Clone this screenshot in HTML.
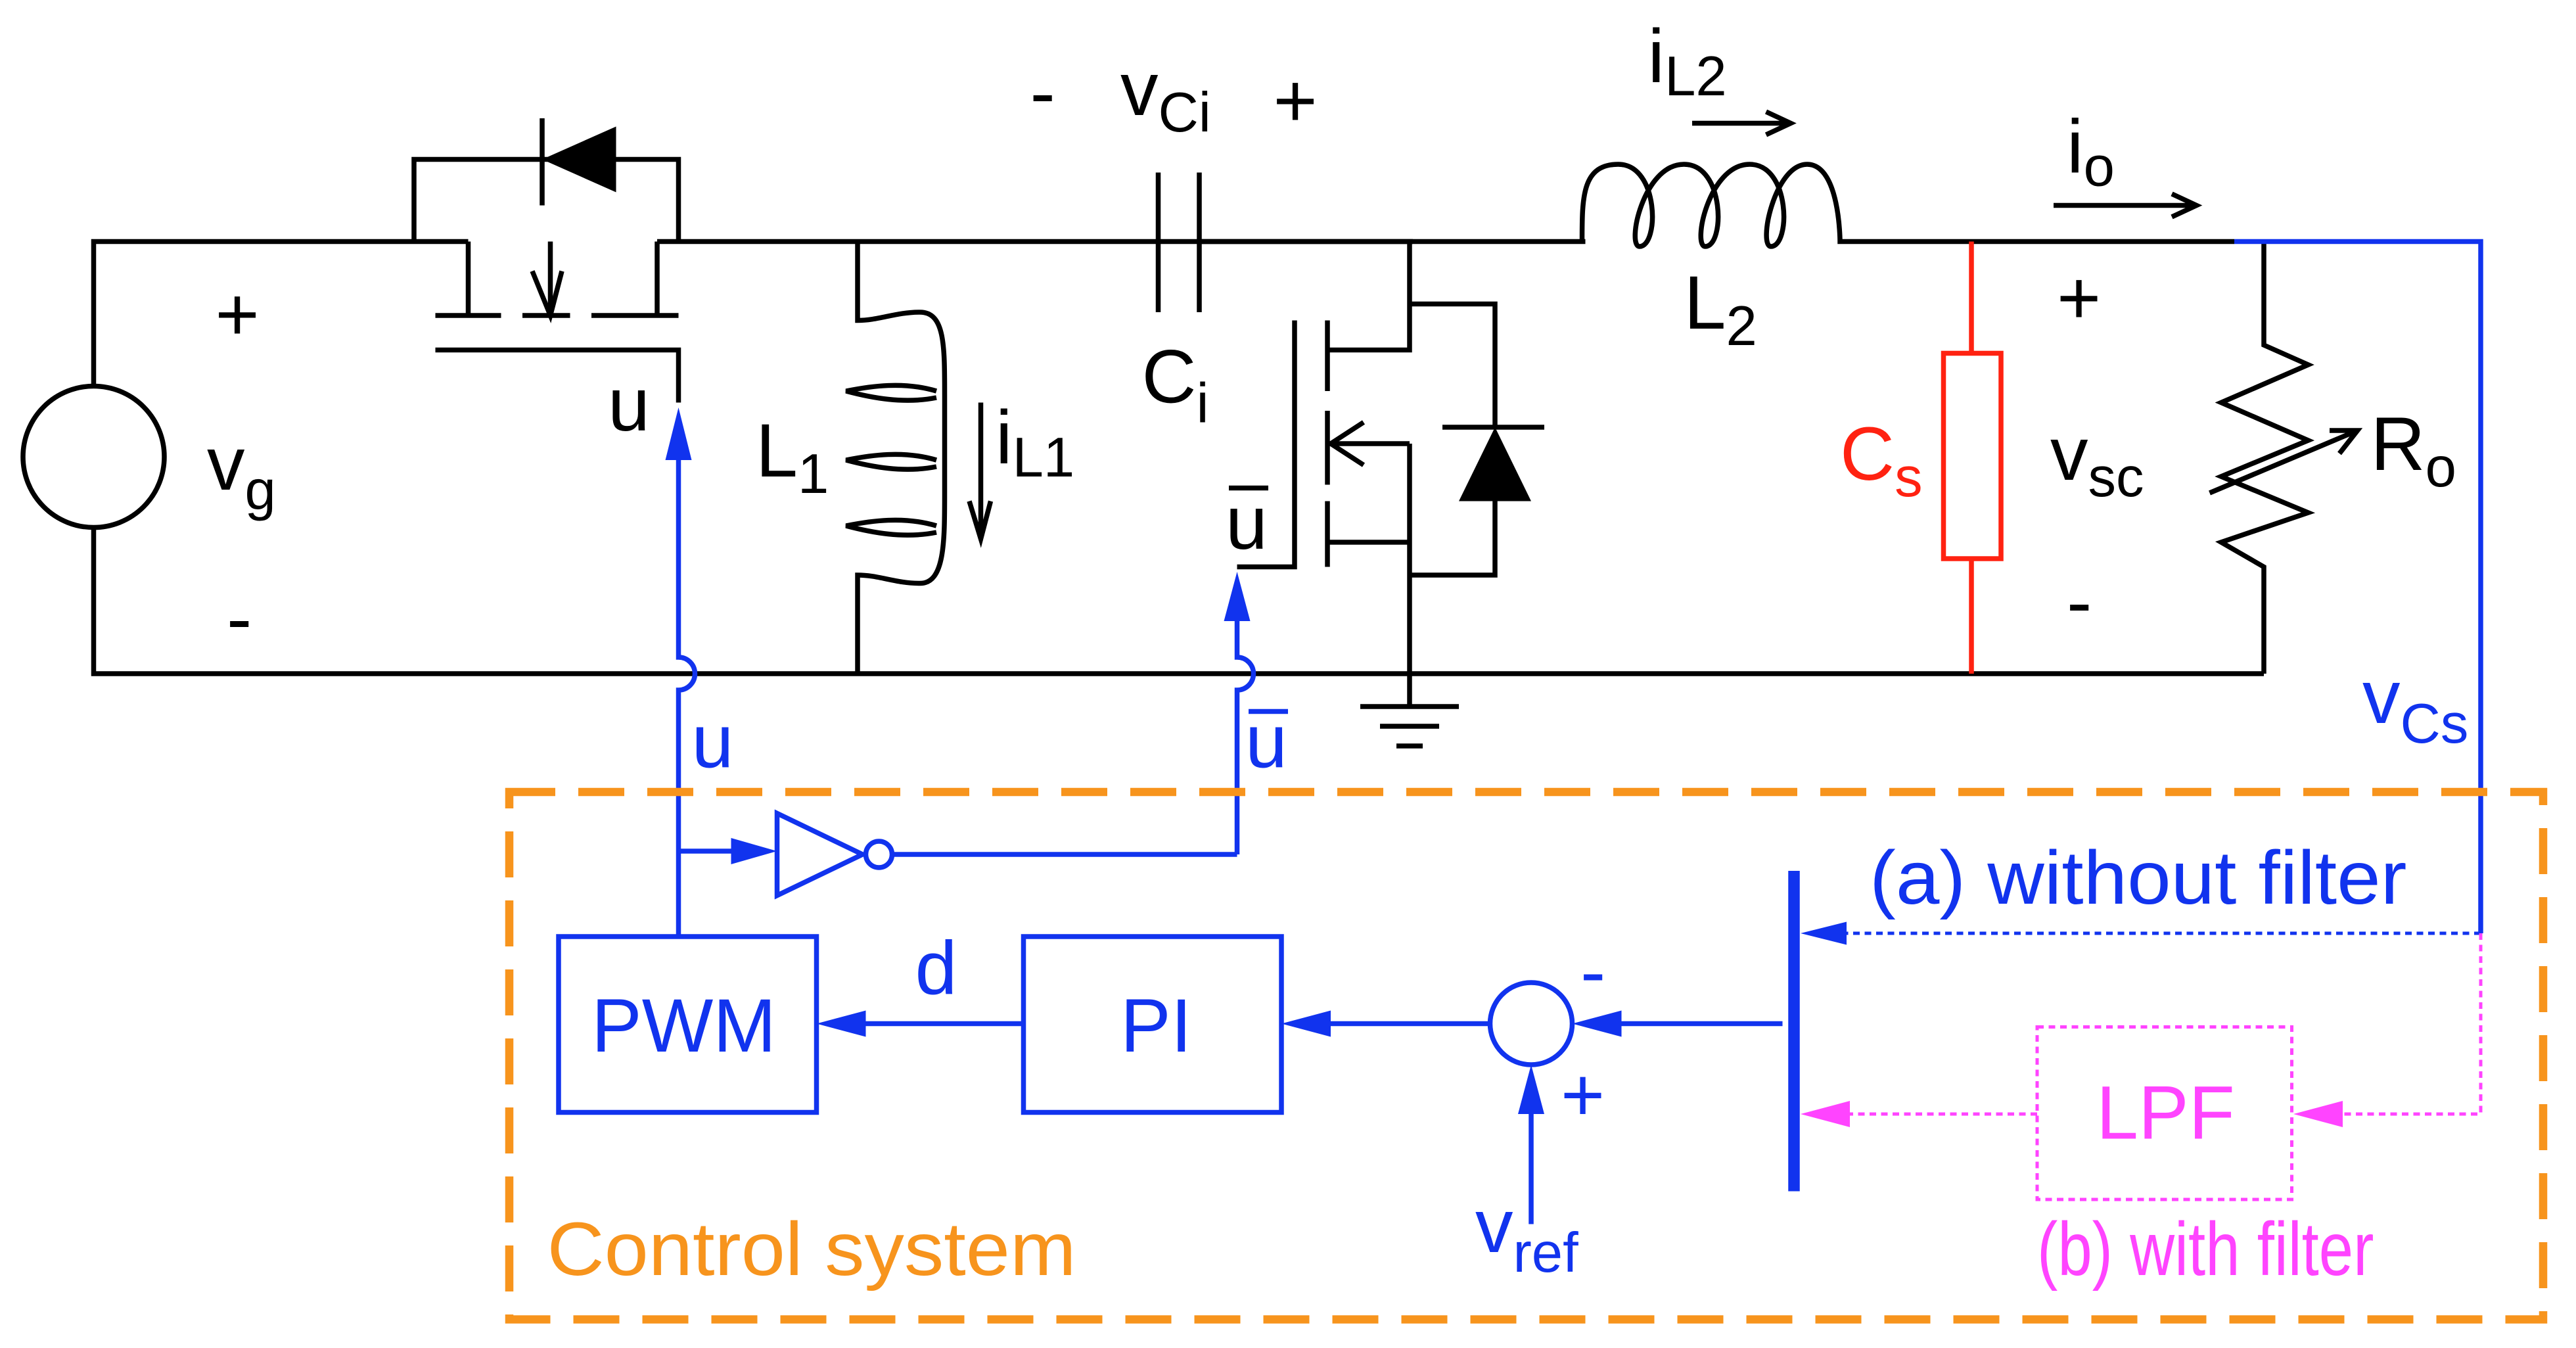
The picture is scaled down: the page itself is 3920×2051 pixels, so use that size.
<!DOCTYPE html>
<html><head><meta charset="utf-8"><style>
html,body{margin:0;padding:0;background:#fff}
svg{display:block}
text{font-family:"Liberation Sans",Arial,sans-serif}
</style></head><body>
<svg width="3920" height="2051" viewBox="0 0 1568 820.4" xmlns="http://www.w3.org/2000/svg">
<g fill="none" stroke="#000" stroke-width="3">
<circle cx="57" cy="278" r="43"/>
<path d="M57 235V147H285M57 321V410H1378"/>
<path d="M285 147V192M400 147H860M400 147V192M335 147V192"/>
<path d="M265 192H305M318 192H347M360 192H413"/>
<path d="M265 213H413V245"/>
<path d="M324 165L335 192L342 165"/>
<path d="M252 147V97H413V147"/>
<path d="M522 147V195C535 195 545 190 560 190C575 190 575 210 575 240C575 270 575 280 575 300C575 330 575 355 560 355C545 355 535 350 522 350V410"/>
<path d="M570 238C550 232 530 235 515 238C530 242 550 246 570 242M570 280C550 274 530 277 515 280C530 284 550 288 570 284M570 320C550 314 530 317 515 320C530 324 550 328 570 324"/>
<path d="M597 245V325M590 305L597 328L603 305"/>
<path d="M705 105V190M730 105V190"/>
<path d="M730 147H965"/>
<path d="M858 147V213H808M858 185H910V260M910 305V350H858M858 270V410M808 270H858M808 330H858"/>
<path d="M808 195V238M808 250V295M808 305V345M788 195V345H753"/>
<path d="M830 257L810 270L830 283"/>
<path d="M878 260H940"/>
<path d="M858 410V430M828 430H888M840 442H876M850 454H866"/>
<path d="M963 147C963 120 963 100 985 100C1010 100 1010 150 998 150C990 150 1000 100 1025 100C1050 100 1050 150 1038 150C1030 150 1040 100 1065 100C1090 100 1090 150 1078 150C1070 150 1080 100 1100 100C1120 100 1120 147 1120 147H1360"/>
<path d="M1030 75H1088M1075 68L1090 75L1075 82"/>
<path d="M1250 125H1335M1322 118L1337 125L1322 132"/>
<path d="M1378 147V210L1405 222L1352 245L1405 268L1352 290L1405 312L1352 330L1378 345V410"/>
<path d="M1345 300L1435 262M1418 262L1435 262L1424 276"/>
</g>
<polygon points="330,97 375,77 375,117" fill="#000"/>
<line x1="330" y1="72" x2="330" y2="125" stroke="#000" stroke-width="3"/>
<polygon points="910,260 888,305 932,305" fill="#000"/>
<g stroke="#f21" stroke-width="3" fill="none"><path d="M1200 147V215M1200 340V410"/><rect x="1183" y="215" width="35" height="125"/></g>
<g stroke="#1133ee" stroke-width="3" fill="none">
<path d="M1360 147H1510V568"/>
<path d="M413 570V420A7 7 0 0 0 413 400V260"/>
<path d="M753 520V420A7 7 0 0 0 753 400V360"/>
<path d="M413 518H460"/>
<path d="M543 520H753"/>
<polygon points="473,495 473,545 525,520"/>
<circle cx="535" cy="520" r="8"/>
<rect x="340" y="570" width="157" height="107"/>
<rect x="623" y="570" width="157" height="107"/>
<path d="M623 623H515M907 623H800M1085 623H980"/>
<circle cx="932" cy="623" r="25"/>
<path d="M932 745V665"/>
<path d="M1510 568H1110" stroke-dasharray="4 3" stroke-width="2"/>
</g>
<line x1="1092" y1="530" x2="1092" y2="725" stroke="#1133ee" stroke-width="7"/>
<g fill="#1133ee">
<polygon points="413,248 405,280 421,280"/>
<polygon points="753,348 745,378 761,378"/>
<polygon points="473,518 445,510 445,526"/>
<polygon points="497,623 527,615 527,631"/>
<polygon points="780,623 810,615 810,631"/>
<polygon points="957,623 987,615 987,631"/>
<polygon points="932,648 924,678 940,678"/>
<polygon points="1096,568 1124,561 1124,575"/>
</g>
<g stroke="#f4f" stroke-width="2" fill="none" stroke-dasharray="4 3">
<path d="M1510 568V678H1420"/>
<rect x="1240" y="625" width="155" height="105"/>
<path d="M1240 678H1120"/>
</g>
<g fill="#f4f"><polygon points="1396,678 1426,670 1426,686"/><polygon points="1096,678 1126,670 1126,686"/></g>
<rect x="310" y="482" width="1238" height="321" fill="none" stroke="#f7941d" stroke-width="5" stroke-dasharray="28 14"/>
<g font-size="46" fill="#000">
<text x="131" y="207">+</text>
<text x="126" y="298">v<tspan font-size="34" dy="12">g</tspan></text>
<text x="138" y="392">-</text>
<text x="370" y="262">u</text>
<text x="460" y="290">L<tspan font-size="34" dy="10">1</tspan></text>
<text x="606" y="282">i<tspan font-size="34" dy="8">L1</tspan></text>
<text x="627" y="72">-</text>
<text x="682" y="70">v<tspan font-size="34" dy="10">Ci</tspan></text>
<text x="775" y="77">+</text>
<text x="695" y="245">C<tspan font-size="34" dy="12">i</tspan></text>
<text x="746" y="334">u</text>
<text x="1003" y="50">i<tspan font-size="34" dy="8">L2</tspan></text>
<text x="1025" y="200">L<tspan font-size="34" dy="10">2</tspan></text>
<text x="1258" y="105">i<tspan font-size="34" dy="8">o</tspan></text>
<text x="1252" y="197">+</text>
<text x="1248" y="292">v<tspan font-size="34" dy="10">sc</tspan></text>
<text x="1258" y="382">-</text>
<text x="1443" y="286">R<tspan font-size="34" dy="10">o</tspan></text>
</g>
<line x1="748" y1="297" x2="772" y2="297" stroke="#000" stroke-width="3"/>
<text x="1120" y="292" font-size="46" fill="#f21">C<tspan font-size="34" dy="10">s</tspan></text>
<g font-size="46" fill="#1133ee">
<text x="1438" y="440">v<tspan font-size="34" dy="12">Cs</tspan></text>
<text x="421" y="467">u</text>
<text x="758" y="467">u</text>
<text x="360" y="640">PWM</text>
<text x="682" y="640">PI</text>
<text x="557" y="605">d</text>
<text x="962" y="607">-</text>
<text x="950" y="682">+</text>
<text x="898" y="762">v<tspan font-size="34" dy="12">ref</tspan></text>
<text x="1138" y="550" textLength="327" lengthAdjust="spacingAndGlyphs">(a) without filter</text>
</g>
<line x1="760" y1="433" x2="784" y2="433" stroke="#1133ee" stroke-width="3"/>
<text x="1276" y="693" font-size="46" fill="#f4f">LPF</text>
<text x="1240" y="776" font-size="46" fill="#f4f" textLength="205" lengthAdjust="spacingAndGlyphs">(b) with filter</text>
<text x="333" y="776" font-size="46" fill="#f7941d" textLength="322" lengthAdjust="spacingAndGlyphs">Control system</text>
</svg>
</body></html>
